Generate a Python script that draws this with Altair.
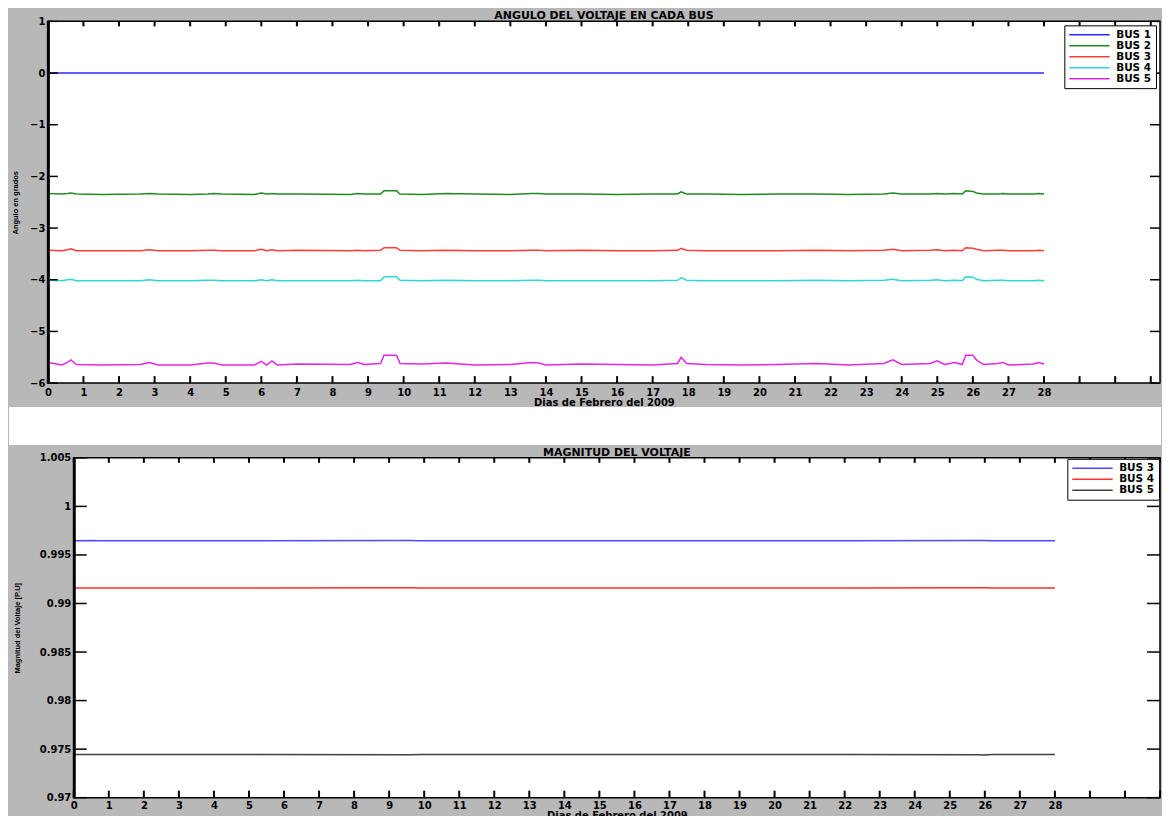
import altair as alt
import pandas as pd

# ---------------- data ----------------
days = [0, 0.4, 0.55, 0.65, 0.8, 1.5, 2.6, 2.85, 3.1, 4.0, 4.5, 4.65, 4.9, 5.8, 6.0, 6.15,
        6.3, 6.45, 7.0, 8.5, 8.7, 8.9, 9.35, 9.45, 9.8, 9.9, 10.5, 11.2, 12.0, 13.0, 13.6,
        13.8, 14.0, 15.0, 16.0, 17.0, 17.7, 17.8, 17.95, 18.5, 19.5, 20.5, 21.6, 22.5, 23.5,
        23.75, 24.0, 24.8, 25.0, 25.2, 25.5, 25.7, 25.8, 26.0, 26.1, 26.3, 26.7, 26.85, 27.0,
        27.7, 27.85, 28.0]

ang_bus1_days = [0, 28]
ang_bus1 = [0.0, 0.0]

ang_bus2 = [-2.33, -2.34, -2.33, -2.32, -2.34, -2.35, -2.34, -2.33, -2.34, -2.35, -2.34,
            -2.33, -2.34, -2.35, -2.32, -2.34, -2.33, -2.34, -2.34, -2.35, -2.33, -2.34,
            -2.34, -2.28, -2.28, -2.34, -2.35, -2.33, -2.34, -2.35, -2.33, -2.33, -2.34,
            -2.34, -2.35, -2.34, -2.34, -2.30, -2.34, -2.34, -2.35, -2.34, -2.34, -2.35,
            -2.34, -2.32, -2.34, -2.34, -2.33, -2.34, -2.33, -2.34, -2.28, -2.29, -2.32,
            -2.34, -2.34, -2.33, -2.34, -2.34, -2.33, -2.34]

ang_bus3 = [-3.43, -3.44, -3.42, -3.40, -3.44, -3.44, -3.44, -3.42, -3.44, -3.44, -3.43,
            -3.43, -3.44, -3.44, -3.41, -3.44, -3.42, -3.44, -3.43, -3.44, -3.43, -3.44,
            -3.43, -3.38, -3.38, -3.43, -3.44, -3.43, -3.44, -3.44, -3.43, -3.43, -3.44,
            -3.43, -3.44, -3.44, -3.43, -3.39, -3.43, -3.44, -3.44, -3.44, -3.43, -3.44,
            -3.43, -3.41, -3.44, -3.43, -3.42, -3.44, -3.43, -3.44, -3.38, -3.39, -3.41,
            -3.44, -3.43, -3.43, -3.44, -3.44, -3.43, -3.44]

ang_bus4 = [-4.01, -4.02, -4.00, -3.99, -4.02, -4.02, -4.02, -4.00, -4.02, -4.02, -4.01,
            -4.01, -4.02, -4.02, -4.00, -4.02, -4.00, -4.02, -4.02, -4.02, -4.01, -4.02,
            -4.02, -3.94, -3.94, -4.01, -4.02, -4.01, -4.02, -4.02, -4.01, -4.01, -4.02,
            -4.02, -4.02, -4.02, -4.01, -3.96, -4.01, -4.02, -4.02, -4.02, -4.01, -4.02,
            -4.01, -3.99, -4.02, -4.01, -4.00, -4.02, -4.01, -4.02, -3.94, -3.95, -3.99,
            -4.02, -4.01, -4.01, -4.02, -4.02, -4.01, -4.02]

ang_bus5 = [-5.60, -5.65, -5.60, -5.55, -5.64, -5.65, -5.64, -5.60, -5.65, -5.65, -5.61,
            -5.61, -5.65, -5.65, -5.58, -5.65, -5.57, -5.65, -5.63, -5.64, -5.60, -5.64,
            -5.62, -5.46, -5.46, -5.62, -5.63, -5.61, -5.65, -5.64, -5.60, -5.61, -5.65,
            -5.63, -5.64, -5.65, -5.62, -5.50, -5.62, -5.64, -5.65, -5.64, -5.62, -5.65,
            -5.62, -5.55, -5.64, -5.62, -5.57, -5.64, -5.60, -5.64, -5.46, -5.46, -5.55,
            -5.64, -5.62, -5.60, -5.65, -5.63, -5.60, -5.63]

mag_days = [0, 0.6, 0.7, 2.0, 9.5, 9.6, 9.9, 13.0, 17.8, 22.0, 25.8, 26.0, 26.2, 28]
mag_bus3 = [0.99645, 0.99648, 0.99645, 0.99645, 0.99648, 0.99648, 0.99645, 0.99645,
            0.99647, 0.99645, 0.99648, 0.99649, 0.99645, 0.99645]
mag_bus4 = [0.99160, 0.99160, 0.99160, 0.99160, 0.99161, 0.99161, 0.99160, 0.99160,
            0.99160, 0.99160, 0.99161, 0.99161, 0.99160, 0.99160]
mag_bus5 = [0.97445, 0.97445, 0.97445, 0.97445, 0.97442, 0.97441, 0.97445, 0.97445,
            0.97444, 0.97445, 0.97442, 0.97440, 0.97445, 0.97445]

ang_names = ['BUS 1', 'BUS 2', 'BUS 3', 'BUS 4', 'BUS 5']
ang_colors = ['#2b2bff', '#1f8c1f', '#ff3b3b', '#2fd6d6', '#e626e6']
mag_names = ['BUS 3', 'BUS 4', 'BUS 5']
mag_colors = ['#4a4aff', '#ff3030', '#404040']

x_label_vals = list(range(0, 29))
x_tick_vals = list(range(0, 32))
ang_ticks = [-6, -5, -4, -3, -2, -1, 0, 1]
mag_ticks = [0.97, 0.975, 0.98, 0.985, 0.99, 0.995, 1.0, 1.005]

# ---------------- tables ----------------
rows = [('BUS 1', d, v) for d, v in zip(ang_bus1_days, ang_bus1)]
for name, vals in [('BUS 2', ang_bus2), ('BUS 3', ang_bus3), ('BUS 4', ang_bus4), ('BUS 5', ang_bus5)]:
    rows += [(name, d, v) for d, v in zip(days, vals)]
ang_df = pd.DataFrame(rows, columns=['bus', 'day', 'val'])

rows = []
for name, vals in [('BUS 3', mag_bus3), ('BUS 4', mag_bus4), ('BUS 5', mag_bus5)]:
    rows += [(name, d, v) for d, v in zip(mag_days, vals)]
mag_df = pd.DataFrame(rows, columns=['bus', 'day', 'val'])

FONT = 'DejaVu Sans'
GRAY = '#b8b8b8'
W = 1116


def panel(df, names, colors, xmax, xstart, ydom, yticks, title, ytitle, H,
          ytl, ytitle_pad, xlabel_pad, gap, title_dx, leg_offset):
    xs = alt.Scale(domain=[0, xmax], nice=False, zero=False, range=[xstart, W])
    ys = alt.Scale(domain=ydom, nice=False, zero=False)
    xaxis = alt.Axis(
        values=x_label_vals, title='Dias de Febrero del 2009', ticks=False, domain=False,
        zindex=1, grid=False, labelFlush=False, labelOverlap=False, labelPadding=xlabel_pad,
        labelFont=FONT, labelFontSize=10, labelFontWeight='bold', labelColor='black',
        titleFont=FONT, titleFontSize=10, titleFontWeight='bold', titleColor='black',
        titlePadding=0)
    yaxis = alt.Axis(
        values=yticks, format='.4~g', title=ytitle, ticks=False, domain=True, zindex=1,
        domainColor='black', domainWidth=3, grid=False, labelFlush=False, offset=-xstart,
        labelOverlap=False, labelPadding=3, labelFont=FONT, labelFontSize=10,
        labelFontWeight='bold', labelColor='black', titleFont='Liberation Sans',
        titleFontSize=7.5, titleFontWeight='bold', titleColor='black',
        titlePadding=ytitle_pad)
    X = alt.X('day:Q', scale=xs, axis=xaxis)
    Y = alt.Y('val:Q', scale=ys, axis=yaxis)
    one = alt.Chart(pd.DataFrame({'day': [0.0], 'val': [ydom[0]]}))
    frame = one.mark_rect(fill='white', stroke='black', strokeWidth=1.5).encode(
        x=alt.value(xstart), x2=alt.value(W), y=alt.value(0), y2=alt.value(H))
    lines = alt.Chart(df).mark_line(strokeWidth=1.5).encode(
        x=X, y=Y,
        color=alt.Color('bus:N', scale=alt.Scale(domain=names, range=colors), legend=alt.Legend(
            title=None, orient='top-right', offset=leg_offset, symbolType='M-1,0H8',
            symbolSize=81, symbolStrokeWidth=1.5, labelOffset=37, labelFont=FONT,
            labelFontSize=10.5, labelFontWeight='bold', labelColor='black',
            strokeColor='black', fillColor='white', padding=4, rowPadding=0,
            cornerRadius=0)),
    )
    xt = alt.Chart(pd.DataFrame({'day': x_tick_vals}))
    x_bottom = xt.mark_rule(color='black', strokeWidth=2).encode(
        x=X, y=alt.value(H), y2=alt.value(H - 7))
    x_top = xt.mark_rule(color='black', strokeWidth=2).encode(
        x=X, y=alt.value(0), y2=alt.value(5))
    yt = alt.Chart(pd.DataFrame({'val': yticks}))
    y_left = yt.mark_rule(color='black', strokeWidth=1.5).encode(
        y=Y, x=alt.value(xstart), x2=alt.value(xstart + ytl))
    y_right = yt.mark_rule(color='black', strokeWidth=1.5).encode(
        y=Y, x=alt.value(W), x2=alt.value(W - ytl))
    layers = [frame, lines, x_bottom, x_top, y_left, y_right]
    if gap:
        layers.append(one.mark_rect(color='white').encode(
            x=alt.value(-39), x2=alt.value(W + 1),
            y=alt.value(H + 24), y2=alt.value(H + 62)))
    return alt.layer(*layers).properties(
        width=W, height=H,
        view=alt.ViewBackground(fill='transparent', stroke='transparent'),
        title=alt.TitleParams(title, font=FONT, fontSize=11, fontWeight='bold', color='black',
                              anchor='middle', frame='group', offset=-5, dx=title_dx))


top = panel(ang_df, ang_names, ang_colors, 31.26, 0, [-6, 1], ang_ticks,
            'ANGULO DEL VOLTAJE EN CADA BUS', 'Angulo en grados', 363,
            10, 10, 4, True, 0, 4)
bottom = panel(mag_df, mag_names, mag_colors, 31, 26, [0.97, 1.005], mag_ticks,
               'MAGNITUD DEL VOLTAJE', 'Magnitud del Voltaje [P.U]', 341,
               13, 18, 3, False, 13, 1)

chart = alt.vconcat(top, bottom, spacing=0).resolve_scale(
    color='independent', x='independent', y='independent'
).properties(padding=0).configure(background=GRAY)

chart.save('out.html', embed_options={'renderer': 'svg', 'actions': False})
